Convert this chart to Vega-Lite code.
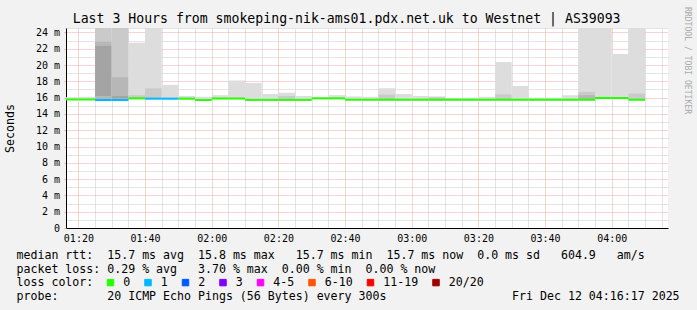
{
  "$schema": "https://vega.github.io/schema/vega-lite/v6.json",
  "autosize": "none",
  "width": 602,
  "height": 200,
  "padding": {"left": 66, "top": 28, "right": 29, "bottom": 82},
  "background": "#f2f2f2",
  "config": {
    "view": {"fill": "#ffffff", "stroke": null},
    "font": "DejaVu Sans Mono"
  },
  "title": {
    "text": "Last 3 Hours from smokeping-nik-ams01.pdx.net.uk to Westnet | AS39093",
    "font": "DejaVu Sans Mono",
    "fontSize": 13.2,
    "fontWeight": "normal",
    "color": "#000000",
    "anchor": "start",
    "frame": "group",
    "dx": 6.7,
    "dy": 21.5,
    "offset": 2,
    "limit": 1000
  },
  "datasets": {
    "smoke": [
      {"t": "2025-12-12T01:15:00Z", "t2": "2025-12-12T01:20:00Z", "layer": 1, "lo": 15.7, "hi": 16.05},
      {"t": "2025-12-12T01:20:00Z", "t2": "2025-12-12T01:25:00Z", "layer": 1, "lo": 15.7, "hi": 16.1},
      {"t": "2025-12-12T01:25:00Z", "t2": "2025-12-12T01:30:00Z", "layer": 1, "lo": 15.65, "hi": 25},
      {"t": "2025-12-12T01:25:00Z", "t2": "2025-12-12T01:30:00Z", "layer": 2, "lo": 15.7, "hi": 25},
      {"t": "2025-12-12T01:25:00Z", "t2": "2025-12-12T01:30:00Z", "layer": 3, "lo": 15.75, "hi": 22.86},
      {"t": "2025-12-12T01:25:00Z", "t2": "2025-12-12T01:30:00Z", "layer": 4, "lo": 16.2, "hi": 22.33},
      {"t": "2025-12-12T01:30:00Z", "t2": "2025-12-12T01:35:00Z", "layer": 1, "lo": 15.65, "hi": 25},
      {"t": "2025-12-12T01:30:00Z", "t2": "2025-12-12T01:35:00Z", "layer": 2, "lo": 15.7, "hi": 25},
      {"t": "2025-12-12T01:30:00Z", "t2": "2025-12-12T01:35:00Z", "layer": 3, "lo": 15.8, "hi": 18.5},
      {"t": "2025-12-12T01:30:00Z", "t2": "2025-12-12T01:35:00Z", "layer": 4, "lo": 15.9, "hi": 16.2},
      {"t": "2025-12-12T01:35:00Z", "t2": "2025-12-12T01:40:00Z", "layer": 1, "lo": 15.8, "hi": 22.74},
      {"t": "2025-12-12T01:35:00Z", "t2": "2025-12-12T01:40:00Z", "layer": 2, "lo": 15.85, "hi": 16.3},
      {"t": "2025-12-12T01:40:00Z", "t2": "2025-12-12T01:45:00Z", "layer": 1, "lo": 15.8, "hi": 25},
      {"t": "2025-12-12T01:40:00Z", "t2": "2025-12-12T01:45:00Z", "layer": 2, "lo": 15.85, "hi": 17.14},
      {"t": "2025-12-12T01:45:00Z", "t2": "2025-12-12T01:50:00Z", "layer": 1, "lo": 15.8, "hi": 17.55},
      {"t": "2025-12-12T01:50:00Z", "t2": "2025-12-12T01:55:00Z", "layer": 1, "lo": 15.8, "hi": 16.2},
      {"t": "2025-12-12T01:55:00Z", "t2": "2025-12-12T02:00:00Z", "layer": 1, "lo": 15.65, "hi": 16.1},
      {"t": "2025-12-12T02:00:00Z", "t2": "2025-12-12T02:05:00Z", "layer": 1, "lo": 15.8, "hi": 16.3},
      {"t": "2025-12-12T02:05:00Z", "t2": "2025-12-12T02:10:00Z", "layer": 1, "lo": 15.8, "hi": 18.1},
      {"t": "2025-12-12T02:10:00Z", "t2": "2025-12-12T02:15:00Z", "layer": 1, "lo": 15.65, "hi": 17.8},
      {"t": "2025-12-12T02:15:00Z", "t2": "2025-12-12T02:20:00Z", "layer": 1, "lo": 15.65, "hi": 16.44},
      {"t": "2025-12-12T02:20:00Z", "t2": "2025-12-12T02:25:00Z", "layer": 1, "lo": 15.65, "hi": 16.6},
      {"t": "2025-12-12T02:20:00Z", "t2": "2025-12-12T02:25:00Z", "layer": 2, "lo": 15.7, "hi": 16.2},
      {"t": "2025-12-12T02:25:00Z", "t2": "2025-12-12T02:30:00Z", "layer": 1, "lo": 15.65, "hi": 16.2},
      {"t": "2025-12-12T02:30:00Z", "t2": "2025-12-12T02:35:00Z", "layer": 1, "lo": 15.8, "hi": 16.05},
      {"t": "2025-12-12T02:35:00Z", "t2": "2025-12-12T02:40:00Z", "layer": 1, "lo": 15.8, "hi": 16.3},
      {"t": "2025-12-12T02:40:00Z", "t2": "2025-12-12T02:45:00Z", "layer": 1, "lo": 15.65, "hi": 16.15},
      {"t": "2025-12-12T02:45:00Z", "t2": "2025-12-12T02:50:00Z", "layer": 1, "lo": 15.65, "hi": 16.1},
      {"t": "2025-12-12T02:50:00Z", "t2": "2025-12-12T02:55:00Z", "layer": 1, "lo": 15.65, "hi": 17.14},
      {"t": "2025-12-12T02:50:00Z", "t2": "2025-12-12T02:55:00Z", "layer": 2, "lo": 15.7, "hi": 16.35},
      {"t": "2025-12-12T02:55:00Z", "t2": "2025-12-12T03:00:00Z", "layer": 1, "lo": 15.65, "hi": 16.44},
      {"t": "2025-12-12T03:00:00Z", "t2": "2025-12-12T03:05:00Z", "layer": 1, "lo": 15.65, "hi": 16.2},
      {"t": "2025-12-12T03:05:00Z", "t2": "2025-12-12T03:10:00Z", "layer": 1, "lo": 15.65, "hi": 16.15},
      {"t": "2025-12-12T03:05:00Z", "t2": "2025-12-12T03:10:00Z", "layer": 2, "lo": 15.7, "hi": 16.05},
      {"t": "2025-12-12T03:10:00Z", "t2": "2025-12-12T03:15:00Z", "layer": 1, "lo": 15.65, "hi": 15.98},
      {"t": "2025-12-12T03:15:00Z", "t2": "2025-12-12T03:20:00Z", "layer": 1, "lo": 15.65, "hi": 16.0},
      {"t": "2025-12-12T03:20:00Z", "t2": "2025-12-12T03:25:00Z", "layer": 1, "lo": 15.65, "hi": 16.1},
      {"t": "2025-12-12T03:25:00Z", "t2": "2025-12-12T03:30:00Z", "layer": 1, "lo": 15.65, "hi": 20.37},
      {"t": "2025-12-12T03:25:00Z", "t2": "2025-12-12T03:30:00Z", "layer": 2, "lo": 15.7, "hi": 16.4},
      {"t": "2025-12-12T03:30:00Z", "t2": "2025-12-12T03:35:00Z", "layer": 1, "lo": 15.65, "hi": 17.42},
      {"t": "2025-12-12T03:35:00Z", "t2": "2025-12-12T03:40:00Z", "layer": 1, "lo": 15.65, "hi": 16.0},
      {"t": "2025-12-12T03:40:00Z", "t2": "2025-12-12T03:45:00Z", "layer": 1, "lo": 15.65, "hi": 16.0},
      {"t": "2025-12-12T03:45:00Z", "t2": "2025-12-12T03:50:00Z", "layer": 1, "lo": 15.65, "hi": 16.3},
      {"t": "2025-12-12T03:50:00Z", "t2": "2025-12-12T03:55:00Z", "layer": 1, "lo": 15.65, "hi": 25},
      {"t": "2025-12-12T03:50:00Z", "t2": "2025-12-12T03:55:00Z", "layer": 2, "lo": 15.7, "hi": 16.7},
      {"t": "2025-12-12T03:50:00Z", "t2": "2025-12-12T03:55:00Z", "layer": 3, "lo": 15.75, "hi": 16.3},
      {"t": "2025-12-12T03:55:00Z", "t2": "2025-12-12T04:00:00Z", "layer": 1, "lo": 15.8, "hi": 25},
      {"t": "2025-12-12T03:55:00Z", "t2": "2025-12-12T04:00:00Z", "layer": 2, "lo": 15.85, "hi": 16.1},
      {"t": "2025-12-12T04:00:00Z", "t2": "2025-12-12T04:05:00Z", "layer": 1, "lo": 15.8, "hi": 21.35},
      {"t": "2025-12-12T04:05:00Z", "t2": "2025-12-12T04:10:00Z", "layer": 1, "lo": 15.65, "hi": 25},
      {"t": "2025-12-12T04:05:00Z", "t2": "2025-12-12T04:10:00Z", "layer": 2, "lo": 15.7, "hi": 16.5}
    ],
    "median": [
      {"t": "2025-12-12T01:15:00Z", "t2": "2025-12-12T01:20:00Z", "med": 15.77, "loss": "0"},
      {"t": "2025-12-12T01:20:00Z", "t2": "2025-12-12T01:25:00Z", "med": 15.77, "loss": "0"},
      {"t": "2025-12-12T01:25:00Z", "t2": "2025-12-12T01:30:00Z", "med": 15.7, "loss": "1"},
      {"t": "2025-12-12T01:30:00Z", "t2": "2025-12-12T01:35:00Z", "med": 15.7, "loss": "1"},
      {"t": "2025-12-12T01:35:00Z", "t2": "2025-12-12T01:40:00Z", "med": 15.91, "loss": "0"},
      {"t": "2025-12-12T01:40:00Z", "t2": "2025-12-12T01:45:00Z", "med": 15.87, "loss": "1"},
      {"t": "2025-12-12T01:45:00Z", "t2": "2025-12-12T01:50:00Z", "med": 15.87, "loss": "1"},
      {"t": "2025-12-12T01:50:00Z", "t2": "2025-12-12T01:55:00Z", "med": 15.87, "loss": "0"},
      {"t": "2025-12-12T01:55:00Z", "t2": "2025-12-12T02:00:00Z", "med": 15.7, "loss": "0"},
      {"t": "2025-12-12T02:00:00Z", "t2": "2025-12-12T02:05:00Z", "med": 15.89, "loss": "0"},
      {"t": "2025-12-12T02:05:00Z", "t2": "2025-12-12T02:10:00Z", "med": 15.89, "loss": "0"},
      {"t": "2025-12-12T02:10:00Z", "t2": "2025-12-12T02:15:00Z", "med": 15.72, "loss": "0"},
      {"t": "2025-12-12T02:15:00Z", "t2": "2025-12-12T02:20:00Z", "med": 15.72, "loss": "0"},
      {"t": "2025-12-12T02:20:00Z", "t2": "2025-12-12T02:25:00Z", "med": 15.72, "loss": "0"},
      {"t": "2025-12-12T02:25:00Z", "t2": "2025-12-12T02:30:00Z", "med": 15.72, "loss": "0"},
      {"t": "2025-12-12T02:30:00Z", "t2": "2025-12-12T02:35:00Z", "med": 15.91, "loss": "0"},
      {"t": "2025-12-12T02:35:00Z", "t2": "2025-12-12T02:40:00Z", "med": 15.91, "loss": "0"},
      {"t": "2025-12-12T02:40:00Z", "t2": "2025-12-12T02:45:00Z", "med": 15.74, "loss": "0"},
      {"t": "2025-12-12T02:45:00Z", "t2": "2025-12-12T02:50:00Z", "med": 15.74, "loss": "0"},
      {"t": "2025-12-12T02:50:00Z", "t2": "2025-12-12T02:55:00Z", "med": 15.74, "loss": "0"},
      {"t": "2025-12-12T02:55:00Z", "t2": "2025-12-12T03:00:00Z", "med": 15.74, "loss": "0"},
      {"t": "2025-12-12T03:00:00Z", "t2": "2025-12-12T03:05:00Z", "med": 15.74, "loss": "0"},
      {"t": "2025-12-12T03:05:00Z", "t2": "2025-12-12T03:10:00Z", "med": 15.74, "loss": "0"},
      {"t": "2025-12-12T03:10:00Z", "t2": "2025-12-12T03:15:00Z", "med": 15.74, "loss": "0"},
      {"t": "2025-12-12T03:15:00Z", "t2": "2025-12-12T03:20:00Z", "med": 15.74, "loss": "0"},
      {"t": "2025-12-12T03:20:00Z", "t2": "2025-12-12T03:25:00Z", "med": 15.74, "loss": "0"},
      {"t": "2025-12-12T03:25:00Z", "t2": "2025-12-12T03:30:00Z", "med": 15.74, "loss": "0"},
      {"t": "2025-12-12T03:30:00Z", "t2": "2025-12-12T03:35:00Z", "med": 15.74, "loss": "0"},
      {"t": "2025-12-12T03:35:00Z", "t2": "2025-12-12T03:40:00Z", "med": 15.74, "loss": "0"},
      {"t": "2025-12-12T03:40:00Z", "t2": "2025-12-12T03:45:00Z", "med": 15.74, "loss": "0"},
      {"t": "2025-12-12T03:45:00Z", "t2": "2025-12-12T03:50:00Z", "med": 15.74, "loss": "0"},
      {"t": "2025-12-12T03:50:00Z", "t2": "2025-12-12T03:55:00Z", "med": 15.74, "loss": "0"},
      {"t": "2025-12-12T03:55:00Z", "t2": "2025-12-12T04:00:00Z", "med": 15.95, "loss": "0"},
      {"t": "2025-12-12T04:00:00Z", "t2": "2025-12-12T04:05:00Z", "med": 15.95, "loss": "0"},
      {"t": "2025-12-12T04:05:00Z", "t2": "2025-12-12T04:10:00Z", "med": 15.74, "loss": "0"}
    ]
  },
  "resolve": {
    "axis": {"x": "independent", "y": "independent"}
  },
  "layer": [
    {
      "data": {"name": "smoke"},
      "mark": {"type": "rect", "clip": true},
      "encoding": {
        "x": {
          "field": "t", "type": "temporal",
          "scale": {"type": "utc", "domain": [1765502177000, 1765513013000], "nice": false},
          "axis": {
            "orient": "bottom",
            "values": [1765502400000, 1765503600000, 1765504800000, 1765506000000, 1765507200000, 1765508400000, 1765509600000, 1765510800000, 1765512000000],
            "labelExpr": "utcFormat(datum.value, '%H:%M')",
            "labelFont": "DejaVu Sans Mono", "labelFontSize": 10, "labelColor": "#000000",
            "labelAngle": 0, "labelPadding": 5, "labelFlush": false, "labelOverlap": false,
            "ticks": false, "tickSize": 0,
            "domain": true, "domainColor": "#000000", "domainWidth": 1,
            "grid": true, "gridColor": "#eaa8a8", "gridDash": [1, 1], "gridWidth": 1, "gridOpacity": 1,
            "title": [
              "median rtt:\u00a0\u00a015.7 ms avg\u00a0\u00a015.8 ms max\u00a0\u00a0\u00a015.7 ms min\u00a0\u00a015.7 ms now\u00a0\u00a00.0 ms sd\u00a0\u00a0\u00a0604.9\u00a0\u00a0\u00a0am/s",
              "packet loss:\u00a00.29 % avg\u00a0\u00a0\u00a03.70 % max\u00a0\u00a00.00 % min\u00a0\u00a00.00 % now",
              "loss color:",
              "probe:\u00a0\u00a0\u00a0\u00a0\u00a0\u00a0\u00a020 ICMP Echo Pings (56 Bytes) every 300s\u00a0\u00a0\u00a0\u00a0\u00a0\u00a0\u00a0\u00a0\u00a0\u00a0\u00a0\u00a0\u00a0\u00a0\u00a0\u00a0\u00a0\u00a0Fri Dec 12 04:16:17 2025"
            ],
            "titleFont": "DejaVu Sans Mono", "titleFontSize": 11.6, "titleFontWeight": "normal", "titleColor": "#000000",
            "titleAnchor": "start", "titleAlign": "left", "titleBaseline": "alphabetic",
            "titleX": -50, "titleY": 30.3, "titleLineHeight": 13.8, "titleLimit": 2000
          }
        },
        "x2": {"field": "t2"},
        "y": {
          "field": "lo", "type": "quantitative",
          "scale": {"domain": [0, 24.54], "nice": false, "zero": false},
          "axis": {
            "orient": "left",
            "values": [0, 2, 4, 6, 8, 10, 12, 14, 16, 18, 20, 22, 24],
            "labelExpr": "datum.value == 0 ? '0' : datum.value + ' m'",
            "labelFont": "DejaVu Sans Mono", "labelFontSize": 10, "labelColor": "#000000",
            "labelPadding": 4.5, "ticks": true, "tickSize": 2, "tickColor": "#eaa8a8",
            "domain": true, "domainColor": "#000000", "domainWidth": 1,
            "grid": true, "gridColor": "#eaa8a8", "gridDash": [1, 1], "gridWidth": 1, "gridOpacity": 1,
            "title": "Seconds",
            "titleFont": "DejaVu Sans Mono", "titleFontSize": 11.6, "titleFontWeight": "normal", "titleColor": "#000000",
            "titleAngle": -90, "titleAlign": "center", "titleBaseline": "middle",
            "titleX": -55.2, "titleY": 100, "titleLimit": 1000
          }
        },
        "y2": {"field": "hi"},
        "fill": {
          "field": "layer", "type": "ordinal",
          "scale": {"domain": [1, 2, 3, 4], "range": ["#dddddd", "#cacaca", "#b7b7b7", "#a4a4a4"]},
          "legend": null
        }
      }
    },
    {
      "data": {"name": "median"},
      "mark": {"type": "rule", "strokeWidth": 2, "clip": true, "strokeCap": "butt"},
      "encoding": {
        "x": {
          "field": "t", "type": "temporal",
          "axis": {
            "orient": "top",
            "values": [1765502700000, 1765503000000, 1765503300000, 1765503900000, 1765504200000, 1765504500000, 1765505100000, 1765505400000, 1765505700000, 1765506300000, 1765506600000, 1765506900000, 1765507500000, 1765507800000, 1765508100000, 1765508700000, 1765509000000, 1765509300000, 1765509900000, 1765510200000, 1765510500000, 1765511100000, 1765511400000, 1765511700000, 1765512300000, 1765512600000, 1765512900000],
            "labels": false, "ticks": false,
            "domain": true, "domainColor": "#c8c8c8", "domainDash": [1, 1], "domainWidth": 1,
            "grid": true, "gridColor": "#c8c8c8", "gridDash": [1, 1], "gridWidth": 1, "gridOpacity": 1,
            "title": null
          }
        },
        "x2": {"field": "t2"},
        "y": {
          "field": "med", "type": "quantitative",
          "scale": {"domain": [0, 24.54], "nice": false, "zero": false},
          "axis": {
            "orient": "right",
            "values": [1, 3, 5, 7, 9, 11, 13, 15, 17, 19, 21, 23],
            "labels": false, "ticks": false, "domain": false,
            "grid": true, "gridColor": "#c8c8c8", "gridDash": [1, 1], "gridWidth": 1, "gridOpacity": 1,
            "title": "RRDTOOL / TOBI OETIKER",
            "titleFont": "DejaVu Sans Mono", "titleFontSize": 8.1, "titleFontWeight": "normal", "titleColor": "#aaaaaa",
            "titleAngle": 90, "titleAlign": "center", "titleBaseline": "middle",
            "titleX": 18.7, "titleY": 32, "titleLimit": 1000
          }
        },
        "color": {
          "field": "loss", "type": "nominal",
          "scale": {
            "domain": ["0", "1", "2", "3", "4-5", "6-10", "11-19", "20/20"],
            "range": ["#26ff00", "#00b8ff", "#0059ff", "#7e00ff", "#ff00ff", "#ff5500", "#ff0000", "#a10000"]
          },
          "legend": {
            "orient": "none", "legendX": 38.7, "legendY": 248.5,
            "direction": "horizontal", "title": null, "padding": 0,
            "symbolType": "square", "symbolSize": 42, "symbolStrokeWidth": 1,
            "labelFont": "DejaVu Sans Mono", "labelFontSize": 11.6, "labelColor": "#000000",
            "labelOffset": 7, "columnPadding": 11.5, "labelLimit": 200,
            "encode": {
              "symbols": {
                "update": {
                  "fill": {"scale": "color", "field": "value"},
                  "stroke": {"value": "#000000"},
                  "strokeWidth": {"value": 1},
                  "opacity": {"value": 1}
                }
              }
            }
          }
        }
      }
    }
  ]
}
